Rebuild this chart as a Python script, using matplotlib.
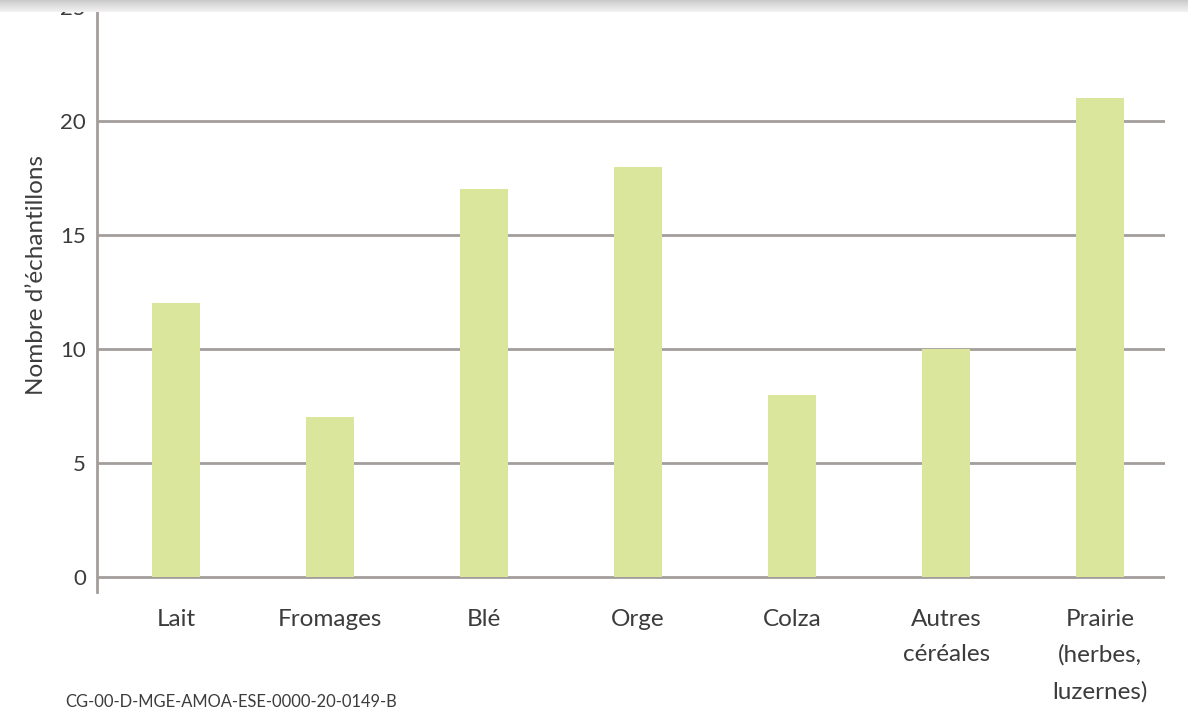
import matplotlib.pyplot as plt
import numpy as np

plt.rcParams['font.family'] = ['Lato', 'DejaVu Sans']

categories = ['Lait', 'Fromages', 'Blé', 'Orge', 'Colza', 'Autres\ncéréales', 'Prairie\n(herbes,\nluzernes)']
values = [12, 7, 17, 18, 8, 10, 21]
yticks = [0, 5, 10, 15, 20, 25]

fig = plt.figure(figsize=(11.88, 7.13), dpi=100)
ax = fig.add_axes([97 / 1188, (713 - 592) / 713, (1165 - 97) / 1188, (592 - 7) / 713])

x = np.arange(len(categories))
ax.bar(x, values, width=0.31, color='#d9e69c', zorder=3)

for y in yticks:
    ax.axhline(y, color='#a39d9b', linewidth=2, zorder=1)

ax.set_xlim(-0.513, 6.42)
ax.set_ylim(-0.66, 25)
ax.set_yticks(yticks)
ax.set_yticklabels([str(t) for t in yticks], fontsize=16, color='#3c3c3c')
ax.set_xticks(x)
ax.set_xticklabels(categories, fontsize=17.5, color='#3c3c3c', linespacing=1.85, va='top')
ax.tick_params(axis='both', length=0)
ax.tick_params(axis='x', pad=12)
ax.tick_params(axis='y', pad=8)

for s in ['top', 'right', 'bottom']:
    ax.spines[s].set_visible(False)
ax.spines['left'].set_color('#a39d9b')
ax.spines['left'].set_linewidth(2)

ax.set_ylabel('Nombre d\u2019échantillons', fontsize=17.5, color='#3c3c3c')
ax.yaxis.set_label_coords(-0.047, 0.542)

fig.text(65 / 1188, 1 - 707 / 713, 'CG-00-D-MGE-AMOA-ESE-0000-20-0149-B', fontsize=11.9, color='#3c3c3c', va='baseline')

# gray screenshot bar at top
grad = np.linspace(0, 1, 12).reshape(-1, 1)
bar_ax = fig.add_axes([0, 1 - 12 / 713, 1, 12 / 713])
bar_ax.imshow(grad, aspect='auto', cmap='Greys_r', vmin=-3.5, vmax=1.6, extent=[0, 1, 0, 1])
bar_ax.axis('off')

fig.savefig('out.png', dpi=100)
